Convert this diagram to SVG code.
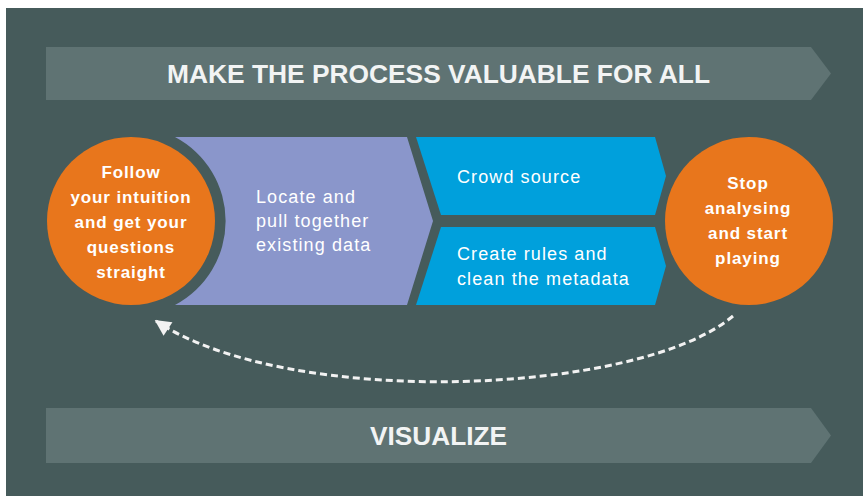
<svg xmlns="http://www.w3.org/2000/svg" width="863" height="496" viewBox="0 0 863 496">
  <defs>
    <style>
      .banner { fill: #5f7373; }
      .banner-text { font-family: "Liberation Sans", Arial, sans-serif; font-weight: bold; font-size: 25.5px; fill: #f2f4f4; text-anchor: middle; }
      .circle { fill: #e8761c; }
      .circle-text { font-family: "Liberation Sans", Arial, sans-serif; font-weight: bold; font-size: 17px; fill: #ffffff; text-anchor: middle; letter-spacing: 0.9px; }
      .step-text { font-family: "Liberation Sans", Arial, sans-serif; font-size: 18px; fill: #ffffff; letter-spacing: 1.1px; }
      .purple { fill: #8a96cb; }
      .blue { fill: #00a0dc; }
      .loop { fill: none; stroke: #f2f2f2; stroke-width: 3; stroke-dasharray: 7 4; }
    </style>
    <marker id="arrow" viewBox="0 0 10 10" refX="9" refY="5" markerWidth="18" markerHeight="16" markerUnits="userSpaceOnUse" orient="auto">
      <path d="M0,0 L10,5 L0,10 z" fill="#f2f2f2"/>
    </marker>
  </defs>

  <!-- page and panel background -->
  <rect x="0" y="0" width="863" height="496" fill="#ffffff"/>
  <rect x="6" y="8" width="857" height="488" fill="#465b5b"/>

  <!-- top banner -->
  <g id="banner-top">
    <path class="banner" d="M46 47 L811 47 L831 73.5 L811 100 L46 100 Z"/>
    <text class="banner-text" x="438.5" y="83" textLength="543" lengthAdjust="spacingAndGlyphs">MAKE THE PROCESS VALUABLE FOR ALL</text>
  </g>

  <!-- start circle -->
  <g id="node-intuition">
    <circle class="circle" cx="131" cy="221" r="84"/>
    <text class="circle-text" x="131" y="178">Follow</text>
    <text class="circle-text" x="131" y="203">your intuition</text>
    <text class="circle-text" x="131" y="228">and get your</text>
    <text class="circle-text" x="131" y="253">questions</text>
    <text class="circle-text" x="131" y="278">straight</text>
  </g>

  <!-- locate step -->
  <g id="node-locate">
    <path class="purple" d="M175 137 L407 137 L433 221 L407 305 L175 305 A95 95 0 0 0 175 137 Z"/>
    <text class="step-text" x="256" y="203">Locate and</text>
    <text class="step-text" x="256" y="227">pull together</text>
    <text class="step-text" x="256" y="251">existing data</text>
  </g>

  <!-- crowd source step -->
  <g id="node-crowd">
    <path class="blue" d="M416 137 L655 137 L666 176 L655 215 L441 215 Z"/>
    <text class="step-text" x="457" y="183">Crowd source</text>
  </g>

  <!-- rules step -->
  <g id="node-rules">
    <path class="blue" d="M441 227 L655 227 L666 266 L655 305 L416 305 Z"/>
    <text class="step-text" x="457" y="260">Create rules and</text>
    <text class="step-text" x="457" y="285">clean the metadata</text>
  </g>

  <!-- end circle -->
  <g id="node-play">
    <circle class="circle" cx="749" cy="221" r="84"/>
    <text class="circle-text" x="748" y="189">Stop</text>
    <text class="circle-text" x="748" y="214">analysing</text>
    <text class="circle-text" x="748" y="239">and start</text>
    <text class="circle-text" x="748" y="264">playing</text>
  </g>

  <!-- feedback loop -->
  <g id="connectors">
    <path class="loop" d="M733 316 C640 395 290 410 156 321" marker-end="url(#arrow)"/>
  </g>

  <!-- bottom banner -->
  <g id="banner-bottom">
    <path class="banner" d="M46 408 L811 408 L831 435.5 L811 463 L46 463 Z"/>
    <text class="banner-text" x="438.5" y="445" textLength="137" lengthAdjust="spacingAndGlyphs">VISUALIZE</text>
  </g>
</svg>
